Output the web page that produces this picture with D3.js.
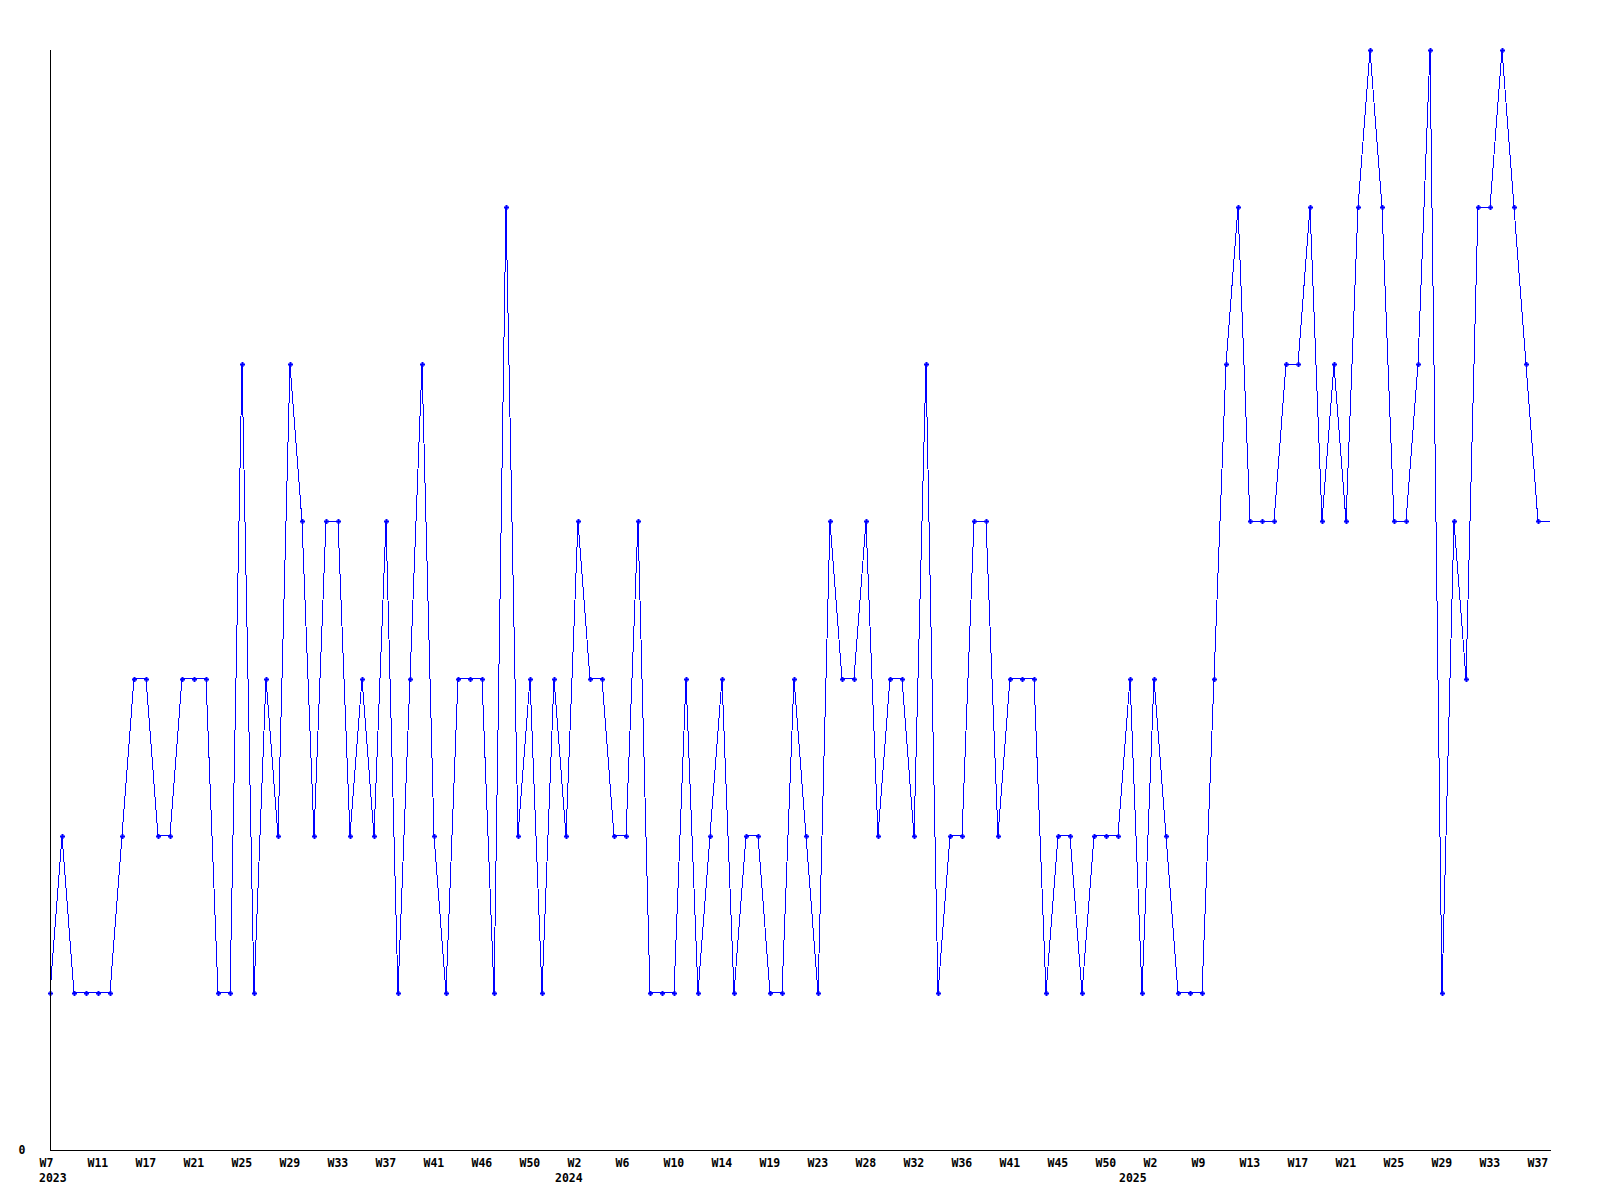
<!DOCTYPE html>
<html>
<head>
<meta charset="utf-8">
<script src="https://cdn.jsdelivr.net/npm/d3@7"></script>
<style>
  html, body { margin: 0; padding: 0; background: #fff; }
  svg { display: block; }
  text { font-family: "DejaVu Sans Mono", "Liberation Mono", monospace; font-weight: bold; font-size: 11.5px; fill: #000; }
</style>
</head>
<body>
<svg id="chart" width="1600" height="1200"></svg>
<script>
// Weekly values, 2023 W7 .. 2025 W38
const values = [
  1,2,1,1,1,1,2,3,3,2,
  2,3,3,3,1,1,5,1,3,2,
  5,4,2,4,4,2,3,2,4,1,
  3,5,2,1,3,3,3,1,6,2,
  3,1,3,2,4,3,3,2,2,4,
  1,1,1,3,1,2,3,1,2,2,
  1,1,3,2,1,4,3,3,4,2,
  3,3,2,5,1,2,2,4,4,2,
  3,3,3,1,2,2,1,2,2,2,
  3,1,3,2,1,1,1,3,5,6,
  4,4,4,5,5,6,4,5,4,6,
  7,6,4,4,5,7,1,4,3,6,
  6,7,6,5,4,4
];
// x-axis tick labels, one per 4th point
const tickLabels = ["W7","W11","W17","W21","W25","W29","W33","W37","W41","W46","W50",
  "W2","W6","W10","W14","W19","W23","W28","W32","W36","W41","W45","W50",
  "W2","W9","W13","W17","W21","W25","W29","W33","W37"];
const tickStep = 4;
// year labels and the index of the first point of each year
const years = ["2023","2024","2025"];
const yearStart = [0, 43, 90];
const yMax = 7;

const svg = d3.select("#chart");
const mLeft = 50, mRight = 1550, mTop = 50, mBottom = 1150;

const x = d3.scaleLinear().domain([0, values.length - 1]).range([mLeft, mRight]);
const y = d3.scaleLinear().domain([0, yMax]).range([mBottom, mTop]);

// line
const line = d3.line().x((d, i) => x(i)).y(d => y(d));
svg.append("path")
  .datum(values)
  .attr("d", line)
  .attr("fill", "none")
  .attr("stroke", "#0000ff")
  .attr("stroke-width", 1)
  .attr("shape-rendering", "crispEdges");

// markers (last, still-open point has none)
svg.append("g").selectAll("path")
  .data(values.slice(0, values.length - 1))
  .join("path")
  .attr("d", (d, i) => {
    const cx = Math.round(x(i)) + 0.5, cy = Math.round(y(d)) + 0.5;
    return `M${cx-2.5},${cy}H${cx+2.5}M${cx},${cy-2.5}V${cy+2.5}`;
  })
  .attr("stroke", "#0000ff")
  .attr("stroke-width", 2)
  .attr("fill", "none");

// x axis
const tickIdx = d3.range(0, values.length, tickStep);
const xAxis = d3.axisBottom(x)
  .tickValues(tickIdx)
  .tickFormat((d, i) => tickLabels[i])
  .tickSize(0)
  .tickPadding(8)
  .tickSizeOuter(0);
const gx = svg.append("g").attr("transform", `translate(0,${mBottom + 0.5})`).call(xAxis);
gx.select(".domain").attr("d", `M${mLeft},0H${mRight + 1}`).attr("stroke", "#000").attr("shape-rendering", "crispEdges");
gx.selectAll(".tick text")
  .attr("text-anchor", "start")
  .attr("dx", -11);
gx.attr("font-family", null).attr("font-size", null);

// year labels
svg.append("g").selectAll("text")
  .data(years)
  .join("text")
  .attr("x", (d, i) => x(yearStart[i]) - 11)
  .attr("y", mBottom + 32)
  .text(d => d);

// y axis
const yAxis = d3.axisLeft(y)
  .tickValues([0])
  .tickFormat(d3.format("d"))
  .tickSize(0)
  .tickPadding(25)
  .tickSizeOuter(0);
const gy = svg.append("g").attr("transform", `translate(${mLeft + 0.5},0)`).call(yAxis);
gy.select(".domain").attr("d", `M0,${mTop}V${mBottom}`).attr("stroke", "#000").attr("shape-rendering", "crispEdges");
gy.attr("font-family", null).attr("font-size", null);
</script>
</body>
</html>
